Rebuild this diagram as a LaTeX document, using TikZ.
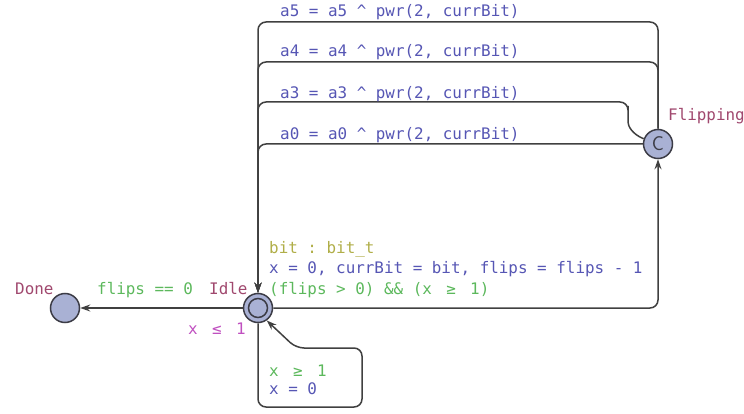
\documentclass[tikz,border=0pt]{standalone}
\usepackage{fontspec}
\setmonofont{DejaVu Sans Mono}
\usetikzlibrary{arrows.meta}
\definecolor{locfill}{HTML}{A9B1D4}
\definecolor{locline}{HTML}{3C3C46}
\definecolor{edgecol}{HTML}{404040}
\definecolor{namecol}{HTML}{A0486E}
\definecolor{bluecol}{HTML}{5656B4}
\definecolor{greencol}{HTML}{5CB85C}
\definecolor{olivecol}{HTML}{B0AE48}
\definecolor{invcol}{HTML}{C050C0}
\newcommand\dblw[1]{\makebox[1.204em]{#1}}
\begin{document}
\begin{tikzpicture}[x=1pt,y=-1pt,
  loc/.style={circle, draw=locline, fill=locfill, line width=1.5pt, minimum size=29pt, inner sep=0pt},
  edge/.style={draw=edgecol, line width=1.5pt, rounded corners=8pt, -{Stealth[length=10pt,width=7pt,inset=3.5pt,open]}},
  lbl/.style={font=\ttfamily\fontsize{15.9}{18}\selectfont, anchor=west, inner sep=0pt, text height=11pt, text depth=3pt}]
\useasboundingbox (0,0) rectangle (744,414);

% locations
\node[loc] (Idle) at (258,308) {};
\node[circle, draw=locline, line width=1.5pt, minimum size=19pt, inner sep=0pt] (IdleInner) at (Idle) {};
\node[loc] (Done) at (65,308) {};
\node[loc, font=\sffamily\fontsize{20}{20}\selectfont, text=locline] (Flipping) at (658,144) {C};

% location labels
\node[lbl, text=namecol] (lDone) at (15,290) {Done};
\node[lbl, text=namecol] (lIdle) at (209,290) {Idle};
\node[lbl, text=namecol] (lFlip) at (668,117) {Flipping};
\node[lbl, text=invcol] (lInv) at (188,330) {x \dblw{≤} 1};

% edges
\draw[edge] (Idle) -- (Done);
\draw[edge] (Idle.east) -| (Flipping.south);
\draw[edge] (Flipping.west) -| (Idle.north);
\draw[edge] (Flipping.160) .. controls (632,134) and (628,126) .. (628,114) -- (628,102) -- (258,102) -- (Idle.north);
\draw[edge] (Flipping.north) -- (658,62) -- (258,62) -- (Idle.north);
\draw[edge] (Flipping.north) -- (658,22) -- (258,22) -- (Idle.north);
\draw[edge] (Idle.south) -- (258,407) -- (362,407) -- (362,348) -- (296,348) -- (Idle.-55);

% edge labels
\node[lbl, text=greencol] (gDone) at (97,290) {flips == 0};
\node[lbl, text=bluecol] (u5) at (280,13) {a5 = a5 \^{} pwr(2, currBit)};
\node[lbl, text=bluecol] (u4) at (280,53) {a4 = a4 \^{} pwr(2, currBit)};
\node[lbl, text=bluecol] (u3) at (280,95) {a3 = a3 \^{} pwr(2, currBit)};
\node[lbl, text=bluecol] (u0) at (280,136) {a0 = a0 \^{} pwr(2, currBit)};
\node[lbl, text=olivecol] (sel) at (269,249) {bit : bit\_t};
\node[lbl, text=bluecol] (upd) at (269,269) {x = 0, currBit = bit, flips = flips - 1};
\node[lbl, text=greencol] (grd) at (269,290) {(flips > 0) \&\& (x \dblw{≥} 1)};
\node[lbl, text=greencol] (sg) at (269,372) {x \dblw{≥} 1};
\node[lbl, text=bluecol] (su) at (269,390) {x = 0};
\end{tikzpicture}
\end{document}
